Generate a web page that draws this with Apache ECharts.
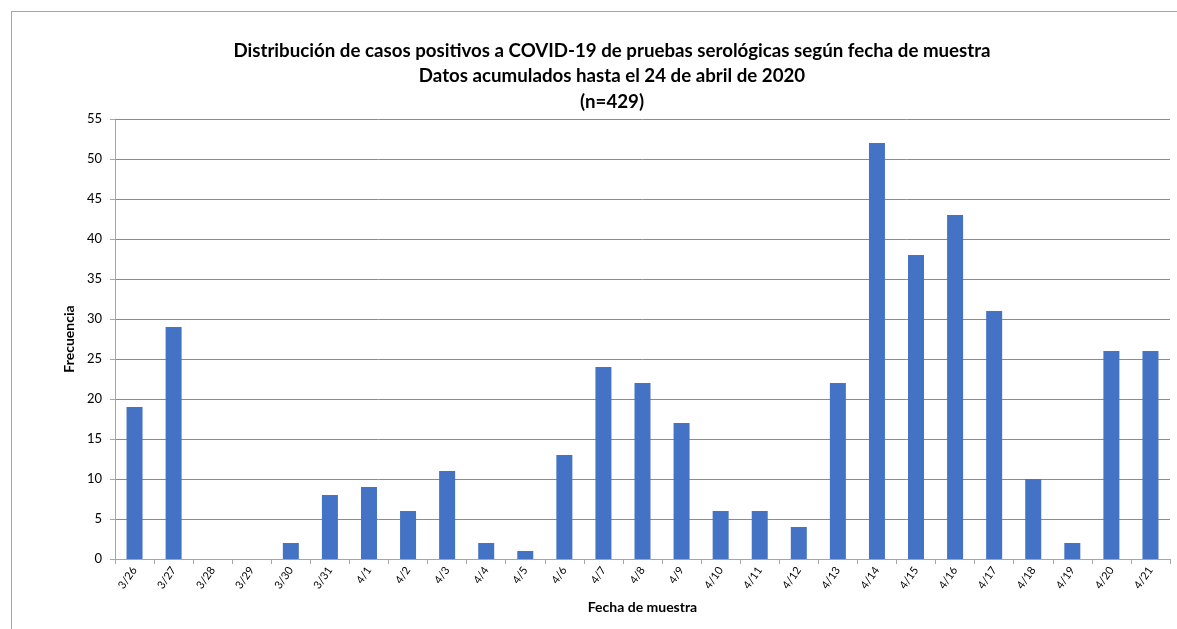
<!DOCTYPE html>
<html><head><meta charset="utf-8">
<script src="https://cdn.jsdelivr.net/npm/echarts@6/dist/echarts.min.js"></script>
<style>
html,body{margin:0;padding:0;background:#fff;}
#frame{position:absolute;left:11px;top:11px;width:1200px;height:700px;border:1px solid #a6a6a6;box-sizing:border-box;}
#c{position:absolute;left:0;top:0;width:1177px;height:629px;}
</style></head>
<body>
<div id="frame"></div>
<div id="c"></div>
<script>
const categories = ['3/26','3/27','3/28','3/29','3/30','3/31','4/1','4/2','4/3','4/4','4/5','4/6','4/7','4/8','4/9','4/10','4/11','4/12','4/13','4/14','4/15','4/16','4/17','4/18','4/19','4/20','4/21'];
const values = [19,29,0,0,2,8,9,6,11,2,1,13,24,22,17,6,6,4,22,52,38,43,31,10,2,26,26];
const titleLines = ['Distribución de casos positivos a COVID-19 de pruebas serológicas según fecha de muestra','Datos acumulados hasta el 24 de abril de 2020','(n=429)'];

const chart = echarts.init(document.getElementById('c'), null, {renderer:'canvas'});
const font = 'Lato, Carlito, "Liberation Sans", sans-serif';
chart.setOption({
  animation:false,
  textStyle:{fontFamily:font},
  title:{
    text: titleLines.join('\n'),
    left: 607, top: 33, textAlign:'center',
    textStyle:{fontFamily:font,fontSize:18.7,fontWeight:'bold',color:'#000',lineHeight:25.5}
  },
  grid:{left:115,right:7,top:119,bottom:70,containLabel:false},
  xAxis:{
    type:'category', data:categories,
    name:'Fecha de muestra', nameLocation:'middle', nameGap:41,
    nameTextStyle:{fontFamily:font,fontSize:14,fontWeight:'bold',color:'#000'},
    axisLine:{lineStyle:{color:'#a6a6a6',width:1}},
    axisTick:{show:true,alignWithLabel:false,length:5,lineStyle:{color:'#a6a6a6'}},
    axisLabel:{rotate:55,fontSize:11,color:'#000',fontFamily:font,interval:0,margin:9}
  },
  yAxis:{
    type:'value', min:0, max:55, interval:5,
    name:'Frecuencia', nameLocation:'middle', nameGap:36,
    nameTextStyle:{fontFamily:font,fontSize:14,fontWeight:'bold',color:'#000'},
    axisLine:{show:true,lineStyle:{color:'#a6a6a6'}},
    axisTick:{show:true,length:5,lineStyle:{color:'#a6a6a6'}},
    axisLabel:{fontSize:13,color:'#000',fontFamily:font,margin:13},
    splitLine:{lineStyle:{color:'#8c8c8c',width:1}}
  },
  series:[{
    type:'bar', data:values, barWidth:16,
    itemStyle:{color:'#4472c4'}
  }]
});
</script>
</body></html>
